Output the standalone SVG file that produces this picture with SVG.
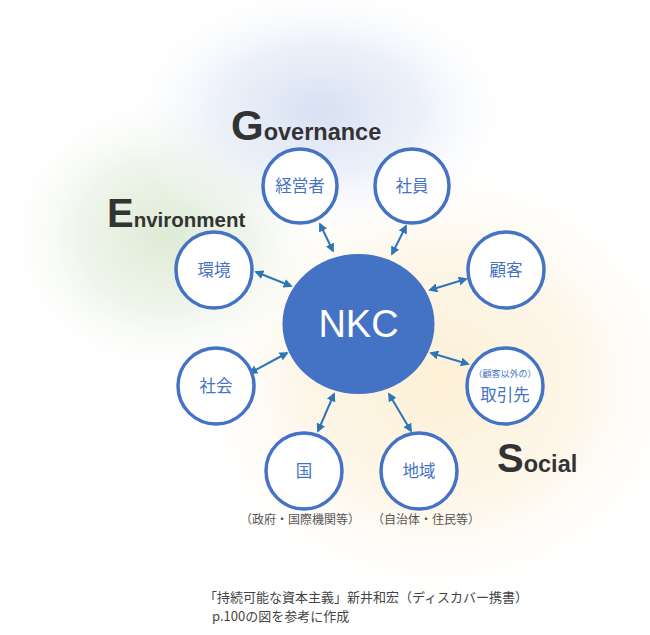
<svg xmlns="http://www.w3.org/2000/svg" width="650" height="635" viewBox="0 0 650 635">
<defs>
<radialGradient id="gBlue" cx="0.5" cy="0.5" r="0.5">
<stop offset="0" stop-color="#d3ddf1" stop-opacity="0.9"/>
<stop offset="0.5" stop-color="#dfe6f5" stop-opacity="0.6"/>
<stop offset="1" stop-color="#ffffff" stop-opacity="0"/>
</radialGradient>
<radialGradient id="gGreen" cx="0.5" cy="0.5" r="0.5">
<stop offset="0" stop-color="#d9e8d0" stop-opacity="0.9"/>
<stop offset="0.5" stop-color="#e4eedd" stop-opacity="0.6"/>
<stop offset="1" stop-color="#ffffff" stop-opacity="0"/>
</radialGradient>
<radialGradient id="gYellow" cx="0.5" cy="0.5" r="0.5">
<stop offset="0" stop-color="#fcefd3" stop-opacity="0.95"/>
<stop offset="0.55" stop-color="#fcf3e0" stop-opacity="0.7"/>
<stop offset="1" stop-color="#ffffff" stop-opacity="0"/>
</radialGradient>
<marker id="ah" viewBox="0 0 10 10" refX="8" refY="5" markerWidth="4.5" markerHeight="4.5" orient="auto-start-reverse">
<path d="M0,0 L10,5 L0,10 z" fill="#2e75b6"/>
</marker>
<style>
.node{fill:#ffffff;stroke:#4472c4;stroke-width:3.5}
.lbl{font-family:"Noto Sans CJK JP","Noto Sans",sans-serif;font-size:16.5px;fill:#4472c4;text-anchor:middle}
.sub{font-family:"Noto Sans CJK JP","Noto Sans",sans-serif;font-size:12px;fill:#555555;text-anchor:middle}
.tiny{font-family:"Noto Sans CJK JP","Noto Sans",sans-serif;font-size:9px;fill:#4472c4;text-anchor:middle}
.conn{stroke:#2e75b6;stroke-width:2;fill:none;marker-start:url(#ah);marker-end:url(#ah)}
.big{font-family:"Liberation Sans",Arial,sans-serif;font-weight:bold;fill:#333333}
.nkc{font-family:"Liberation Sans",Arial,sans-serif;font-size:38px;fill:#ffffff;text-anchor:middle}
.foot{font-family:"Noto Sans CJK JP","Noto Sans",sans-serif;font-size:13px;fill:#444444}
</style>
</defs>
<rect width="650" height="635" fill="#ffffff"/>
<ellipse cx="440" cy="380" rx="260" ry="230" fill="url(#gYellow)"/>
<ellipse cx="165" cy="235" rx="170" ry="150" fill="url(#gGreen)"/>
<ellipse cx="320" cy="110" rx="200" ry="130" fill="url(#gBlue)"/>

<g id="title-governance"><text class="big" x="231" y="140"><tspan font-size="42">G</tspan><tspan font-size="23.5">overnance</tspan></text></g>
<g id="title-environment"><text class="big" x="107" y="227"><tspan font-size="40">E</tspan><tspan font-size="20.5">nvironment</tspan></text></g>
<g id="title-social"><text class="big" x="497" y="472"><tspan font-size="40">S</tspan><tspan font-size="23.5">ocial</tspan></text></g>

<g id="connectors">
<line class="conn" x1="320" y1="224" x2="333" y2="251"/>
<line class="conn" x1="406" y1="226" x2="392" y2="254"/>
<line class="conn" x1="466" y1="279" x2="430" y2="290"/>
<line class="conn" x1="468" y1="364" x2="431" y2="353"/>
<line class="conn" x1="411" y1="431" x2="389" y2="394"/>
<line class="conn" x1="318" y1="431" x2="334" y2="394"/>
<line class="conn" x1="250" y1="373" x2="287" y2="353"/>
<line class="conn" x1="256" y1="272" x2="291" y2="286"/>
</g>

<g id="nkc"><ellipse cx="358.5" cy="324" rx="76" ry="70" fill="#4472c4"/>
<text class="nkc" x="358.5" y="337">NKC</text></g>

<g id="keieisha"><circle class="node" cx="300" cy="186" r="37"/><text class="lbl" x="300" y="192">経営者</text></g>
<g id="shain"><circle class="node" cx="412" cy="186" r="37"/><text class="lbl" x="412" y="192">社員</text></g>
<g id="kokyaku"><circle class="node" cx="506" cy="270" r="38"/><text class="lbl" x="506" y="276">顧客</text></g>
<g id="torihikisaki"><circle class="node" cx="505" cy="386" r="38"/><text class="tiny" x="505" y="377">（顧客以外の）</text><text class="lbl" x="505" y="401">取引先</text></g>
<g id="chiiki"><circle class="node" cx="419" cy="471" r="38"/><text class="lbl" x="419" y="477">地域</text></g>
<g id="kuni"><circle class="node" cx="304" cy="471" r="38"/><text class="lbl" x="304" y="477">国</text></g>
<g id="shakai"><circle class="node" cx="216" cy="386" r="38"/><text class="lbl" x="216" y="392">社会</text></g>
<g id="kankyo"><circle class="node" cx="214" cy="270" r="38"/><text class="lbl" x="214" y="276">環境</text></g>

<g id="sub-labels">
<text class="sub" x="300" y="524">（政府・国際機関等）</text>
<text class="sub" x="426" y="524">（自治体・住民等）</text>
</g>
<g id="footer">
<text class="foot" x="204" y="602">「持続可能な資本主義」新井和宏（ディスカバー携書）</text>
<text class="foot" x="212" y="621">p.100の図を参考に作成</text>
</g>
</svg>
